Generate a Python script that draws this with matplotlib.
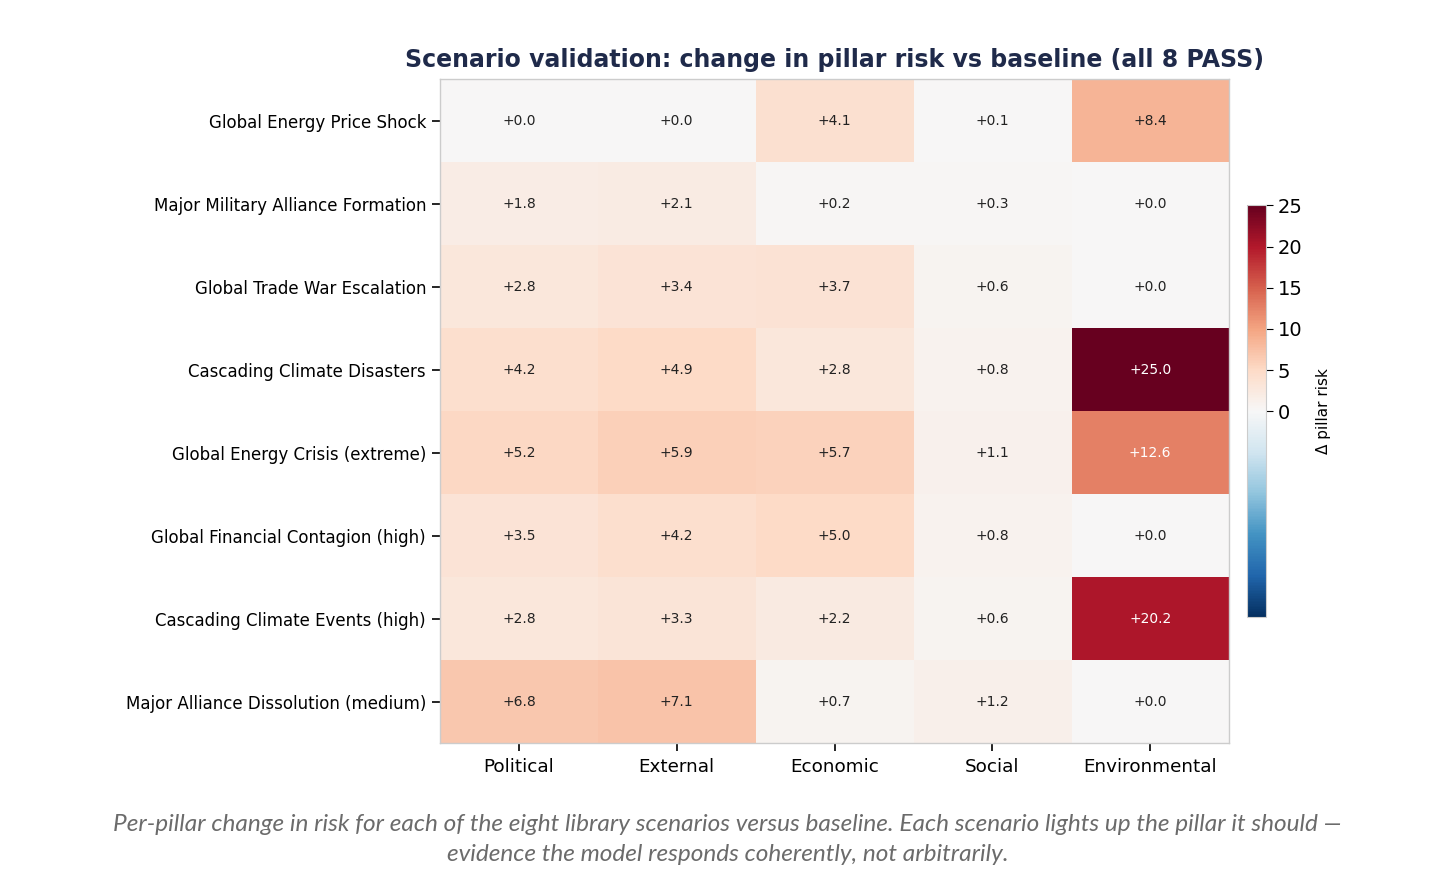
import matplotlib
matplotlib.use("Agg")
import matplotlib.pyplot as plt
import numpy as np

scenarios = [
    "Global Energy Price Shock",
    "Major Military Alliance Formation",
    "Global Trade War Escalation",
    "Cascading Climate Disasters",
    "Global Energy Crisis (extreme)",
    "Global Financial Contagion (high)",
    "Cascading Climate Events (high)",
    "Major Alliance Dissolution (medium)",
]
pillars = ["Political", "External", "Economic", "Social", "Environmental"]

political     = [0.0, 1.8, 2.8, 4.2, 5.2, 3.5, 2.8, 6.8]
external      = [0.0, 2.1, 3.4, 4.9, 5.9, 4.2, 3.3, 7.1]
economic      = [4.1, 0.2, 3.7, 2.8, 5.7, 5.0, 2.2, 0.7]
social        = [0.1, 0.3, 0.6, 0.8, 1.1, 0.8, 0.6, 1.2]
environmental = [8.4, 0.0, 0.0, 25.0, 12.6, 0.0, 20.2, 0.0]

data = np.array([political, external, economic, social, environmental]).T

fig = plt.figure(figsize=(14.55, 8.89), dpi=100)
ax = fig.add_axes([0.3024, 0.1642, 0.5423, 0.7469])
cax = fig.add_axes([0.857, 0.306, 0.013, 0.463])

im = ax.imshow(data, cmap="RdBu_r", vmin=-25, vmax=25, aspect="auto",
               interpolation="nearest")

for i in range(data.shape[0]):
    for j in range(data.shape[1]):
        v = data[i, j]
        col = "white" if abs(v) > 12 else "#222222"
        ax.text(j, i, f"{v:+.1f}", ha="center", va="center", fontsize=10, color=col)

ax.set_xticks(range(len(pillars)))
ax.set_xticklabels(pillars, fontsize=13.2)
ax.set_yticks(range(len(scenarios)))
ax.set_yticklabels(scenarios, fontsize=12)
ax.tick_params(axis="both", length=6, width=1.2, color="black", pad=4)
ax.tick_params(axis="x", pad=5)
for s in ax.spines.values():
    s.set_color("#cccccc")
    s.set_linewidth(1)

ax.set_title("Scenario validation: change in pillar risk vs baseline (all 8 PASS)",
             fontsize=17, fontweight="bold", color="#1f2a4a", pad=9)

cb = fig.colorbar(im, cax=cax)
cb.set_ticks([0, 5, 10, 15, 20, 25])
cb.ax.tick_params(labelsize=14, length=5, color="black")
cb.outline.set_edgecolor("#cccccc")
cb.set_label("Δ pillar risk", fontsize=11, labelpad=10)

fig.text(0.5, 0.0725,
         "Per-pillar change in risk for each of the eight library scenarios versus baseline. "
         "Each scenario lights up the pillar it should —",
         ha="center", va="center", fontsize=17.6, style="italic", color="#6b6b6b",
         family=["Lato", "DejaVu Sans"])
fig.text(0.5, 0.0385,
         "evidence the model responds coherently, not arbitrarily.",
         ha="center", va="center", fontsize=17.6, style="italic", color="#6b6b6b",
         family=["Lato", "DejaVu Sans"])

fig.savefig("out.png", dpi=100, facecolor="white")
